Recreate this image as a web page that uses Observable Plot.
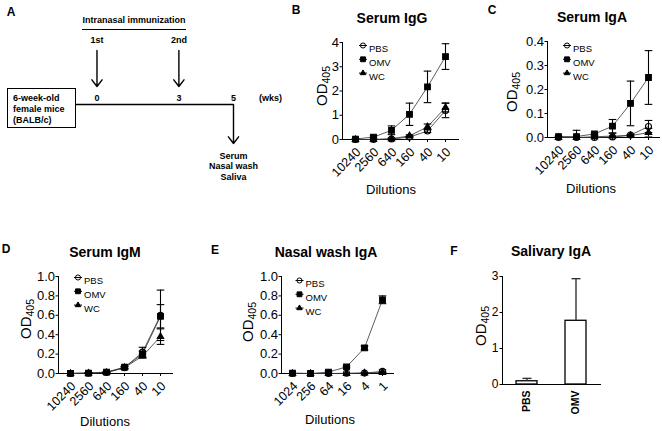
<!DOCTYPE html>
<html><head><meta charset="utf-8">
<script src="https://cdn.jsdelivr.net/npm/d3@7"></script>
<script src="https://cdn.jsdelivr.net/npm/@observablehq/plot@0.6"></script>
<style>
body{margin:0;background:#fff;}
#fig{position:relative;width:662px;height:431px;font-family:"Liberation Sans",Arial,sans-serif;color:#000;overflow:hidden;background:#fff;}
.c{position:absolute;transform:translate(-50%,-50%);white-space:nowrap;line-height:1;}
.letter{font-weight:bold;font-size:12px;}
.title{font-weight:bold;font-size:14px;}
.xlab{font-size:13px;}
.small{font-weight:bold;font-size:9px;}
.ylab{position:absolute;transform:translate(-50%,-50%) rotate(-90deg);white-space:nowrap;line-height:1;font-size:15px;}
.ylab sub{font-size:10.5px;vertical-align:-0.3em;}
.box{position:absolute;box-sizing:border-box;border:1.4px solid #000;font-weight:bold;font-size:9px;line-height:11px;padding:4px 0 0 5px;white-space:nowrap;}
.uline{position:absolute;border-top:1.3px solid #000;height:0;}
#fig svg{position:absolute;overflow:visible;background:transparent;}
#panelF g[aria-label="x-axis tick label"], #panelF g[aria-label="x-axis"] text{font-weight:bold;font-size:10.5px;}
</style></head>
<body><div id="fig"></div>
<script>
// ---------------- data ----------------
const groups = ["PBS", "OMV", "WC"];
const serumDilutions = ["10240", "2560", "640", "160", "40", "10"];
const nasalDilutions = ["1024", "256", "64", "16", "4", "1"];

// B: Serum IgG
const igG_PBS = [0.00, 0.00, 0.02, 0.10, 0.35, 1.20];
const igG_PBS_sd = [0, 0, 0.02, 0.03, 0.06, 0.30];
const igG_OMV = [0.02, 0.10, 0.38, 1.04, 2.17, 3.42];
const igG_OMV_sd = [0.02, 0.05, 0.18, 0.46, 0.65, 0.53];
const igG_WC = [0.00, 0.00, 0.03, 0.15, 0.52, 1.32];
const igG_WC_sd = [0, 0, 0.03, 0.04, 0.12, 0.18];
const igGTicks = [0, 1, 2, 3, 4];

// C: Serum IgA
const igA_PBS = [0.000, 0.000, 0.000, 0.002, 0.010, 0.046];
const igA_PBS_sd = [0, 0, 0, 0, 0.003, 0.025];
const igA_OMV = [0.004, 0.004, 0.015, 0.047, 0.142, 0.250];
const igA_OMV_sd = [0.002, 0.026, 0.004, 0.028, 0.093, 0.112];
const igA_WC = [0.000, 0.000, 0.003, 0.006, 0.008, 0.020];
const igA_WC_sd = [0, 0, 0.003, 0.012, 0.004, 0.018];
const igATicks = [0, 0.1, 0.2, 0.3, 0.4];

// D: Serum IgM
const igM_PBS = [0.000, 0.003, 0.010, 0.060, 0.220, 0.600];
const igM_PBS_sd = [0, 0.002, 0.005, 0.010, 0.050, 0.260];
const igM_OMV = [0.002, 0.005, 0.015, 0.065, 0.200, 0.590];
const igM_OMV_sd = [0, 0.003, 0.005, 0.010, 0.030, 0.120];
const igM_WC = [0.000, 0.003, 0.010, 0.060, 0.180, 0.380];
const igM_WC_sd = [0, 0.002, 0.005, 0.010, 0.020, 0.080];
const igMTicks = [0, 0.2, 0.4, 0.6, 0.8, 1.0];

// E: Nasal wash IgA
const nasal_PBS = [0.000, 0.000, 0.000, 0.002, 0.004, 0.022];
const nasal_PBS_sd = [0, 0, 0, 0, 0, 0.015];
const nasal_OMV = [0.005, 0.000, 0.015, 0.068, 0.264, 0.760];
const nasal_OMV_sd = [0, 0, 0.010, 0.010, 0.020, 0.040];
const nasal_WC = [0.000, 0.000, 0.000, 0.000, 0.005, 0.010];
const nasal_WC_sd = [0, 0, 0, 0, 0.002, 0.005];
const nasalTicks = [0, 0.2, 0.4, 0.6, 0.8, 1.0];

// F: Salivary IgA
const salivaryGroups = ["PBS", "OMV"];
const salivary = [0.09, 1.77];
const salivary_sd = [0.08, 1.17];
const salivaryTicks = [0, 1, 2, 3];

// A: schedule
const immunizationWeeks = [0, 3];
const immunizationLabels = ["1st", "2nd"];
const timelineWeeks = [0, 3, 5];
const samplingWeek = 5;
const samples = ["Serum", "Nasal wash", "Saliva"];

// ---------------- helpers ----------------
const fig = document.getElementById("fig");
const FONT = "Liberation Sans, Arial, sans-serif";
function put(svg, left, top, id) {
  svg.style.left = left + "px"; svg.style.top = top + "px";
  if (id) svg.id = id;
  fig.appendChild(svg);
}
function txt(cls, x, y, content, html) {
  const d = document.createElement("div");
  d.className = cls;
  if (html) d.innerHTML = content; else d.textContent = content;
  d.style.left = x + "px"; d.style.top = y + "px";
  fig.appendChild(d);
  return d;
}
const hLine = {draw(ctx, size) { const w = Math.sqrt(size / Math.PI); ctx.moveTo(-w, 0); ctx.lineTo(w, 0); }};
const symbolOf = {PBS: "circle", OMV: "square", WC: "triangle"};
const fillOf = {PBS: "none", OMV: "black", WC: "black"};
const rOf = {PBS: 3, OMV: 3.2, WC: 2.4};

function longRows(dils, vals, sds) {
  return groups.flatMap((g, gi) => dils.map((d, i) => ({group: g, dil: d, v: vals[gi][i], sd: sds[gi][i]})));
}

function linePanel(cfg) {
  const data = longRows(cfg.dils, cfg.vals, cfg.sds);
  const err = data.filter(d => d.sd > 0);
  const lo = d => Math.max(0, d.v - d.sd), hi = d => d.v + d.sd;
  const legend = groups.flatMap((g, i) => [
    Plot.dot([g], {frameAnchor: "top-left", dx: cfg.lx, dy: cfg.ly + i * 13.8, symbol: hLine, r: 4, stroke: "black", strokeWidth: 1}),
    Plot.dot([g], {frameAnchor: "top-left", dx: cfg.lx, dy: cfg.ly + i * 13.8, symbol: symbolOf[g], r: rOf[g] * 0.85, fill: fillOf[g], stroke: "black", strokeWidth: 1}),
    Plot.text([g], {frameAnchor: "top-left", dx: cfg.lx + 6, dy: cfg.ly + i * 13.8, text: d => d, textAnchor: "start", fontSize: 9.5})
  ]);
  return Plot.plot({
    width: cfg.width, height: cfg.height,
    marginLeft: cfg.mL, marginRight: cfg.mR, marginTop: cfg.mT, marginBottom: cfg.mB,
    style: {fontFamily: FONT, fontSize: "13px", color: "black", background: "transparent", overflow: "visible"},
    x: {type: "point", domain: cfg.dils, padding: cfg.pad, line: true, tickSize: 3, tickFormat: () => "", label: null},
    y: {domain: [cfg.ticks[0], cfg.ticks[cfg.ticks.length - 1]], ticks: cfg.ticks, tickFormat: cfg.fmt, line: true, tickSize: 2.5, tickPadding: 1, label: null},
    marks: [
      Plot.line(data, {x: "dil", y: "v", z: "group", stroke: "#333", strokeWidth: 0.8}),
      Plot.ruleX(err, {x: "dil", y1: lo, y2: hi, stroke: "black", strokeWidth: 1.1}),
      Plot.dot(err, {x: "dil", y: hi, symbol: hLine, r: 3.8, stroke: "black", strokeWidth: 1.1}),
      Plot.dot(err.filter(d => d.v - d.sd > 0), {x: "dil", y: lo, symbol: hLine, r: 3.8, stroke: "black", strokeWidth: 1.1}),
      ...groups.map(g => Plot.dot(data.filter(d => d.group === g), {x: "dil", y: "v", symbol: symbolOf[g], r: rOf[g], fill: fillOf[g], stroke: "black", strokeWidth: 1.1})),
      Plot.text(cfg.dils, {x: d => d, frameAnchor: "bottom", dx: 3, dy: 10.5, rotate: -45, textAnchor: "end", lineAnchor: "middle", text: d => d, fontSize: 12.5}),
      ...legend
    ]
  });
}

// ---------------- panel A ----------------
const imm = immunizationWeeks.map((wk, i) => ({wk, label: immunizationLabels[i]}));
const aPlot = Plot.plot({
  width: 300, height: 200, marginLeft: 76, marginRight: 67, marginTop: 0, marginBottom: 0,
  style: {fontFamily: FONT, fontSize: "9px", fontWeight: "bold", color: "black", background: "transparent", overflow: "visible"},
  x: {domain: [-0.75, samplingWeek], axis: null},
  y: {domain: [0, 200], range: [0, 200], axis: null},
  marks: [
    Plot.ruleY([104], {strokeWidth: 1.4}),
    Plot.arrow(imm, {x1: "wk", x2: "wk", y1: 50, y2: 86, headAngle: 75, headLength: 9, strokeWidth: 1.4}),
    Plot.text(imm, {x: "wk", y: 40, text: "label"}),
    Plot.text(timelineWeeks, {x: d => d, y: 98, text: d => String(d)}),
    Plot.text([samplingWeek], {x: d => d, y: 98, dx: 37, text: () => "(wks)"}),
    Plot.arrow([samplingWeek], {x1: d => d, x2: d => d, y1: 104, y2: 143, headAngle: 75, headLength: 9, strokeWidth: 1.4}),
    Plot.text([samplingWeek], {x: d => d, y: 165.5, text: () => samples.join("\n"), lineHeight: 1.17})
  ]
});
put(aPlot, 0, 0, "panelA");
const box = document.createElement("div");
box.className = "box";
box.style.left = "7px"; box.style.top = "88px"; box.style.width = "69px"; box.style.height = "40px";
box.innerHTML = "6-week-old<br>female mice<br>(BALB/c)";
fig.appendChild(box);
txt("c small", 134, 20, "Intranasal immunization");
const ul = document.createElement("div");
ul.className = "uline"; ul.style.left = "82px"; ul.style.top = "29px"; ul.style.width = "104px";
fig.appendChild(ul);

// ---------------- panels B-E ----------------
const f1 = d3.format(".1f");
put(linePanel({dils: serumDilutions, vals: [igG_PBS, igG_OMV, igG_WC], sds: [igG_PBS_sd, igG_OMV_sd, igG_WC_sd],
  ticks: igGTicks, fmt: d => String(d), width: 162, height: 200, mL: 42, mR: 4, mT: 42, mB: 61, pad: 0.6, lx: 20.5, ly: 3}), 300, 0, "panelB");
put(linePanel({dils: serumDilutions, vals: [igA_PBS, igA_OMV, igA_WC], sds: [igA_PBS_sd, igA_OMV_sd, igA_WC_sd],
  ticks: igATicks, fmt: f1, width: 172, height: 200, mL: 57, mR: 3, mT: 41, mB: 63, pad: 0.5, lx: 19.5, ly: 4}), 490, 0, "panelC");
put(linePanel({dils: serumDilutions, vals: [igM_PBS, igM_OMV, igM_WC], sds: [igM_PBS_sd, igM_OMV_sd, igM_WC_sd],
  ticks: igMTicks, fmt: f1, width: 176, height: 231, mL: 58, mR: 4, mT: 76, mB: 58, pad: 0.52, lx: 19.5, ly: 1}), 0, 200, "panelD");
put(linePanel({dils: nasalDilutions, vals: [nasal_PBS, nasal_OMV, nasal_WC], sds: [nasal_PBS_sd, nasal_OMV_sd, nasal_WC_sd],
  ticks: nasalTicks, fmt: f1, width: 167, height: 231, mL: 51, mR: 4, mT: 76, mB: 58, pad: 0.5, lx: 18, ly: 4}), 230, 200, "panelE");

// ---------------- panel F ----------------
const sal = salivaryGroups.map((g, i) => ({group: g, v: salivary[i], sd: salivary_sd[i]}));
put(Plot.plot({
  width: 154, height: 231, marginLeft: 52, marginRight: 4, marginTop: 76, marginBottom: 47,
  style: {fontFamily: FONT, fontSize: "12px", color: "black", background: "transparent", overflow: "visible"},
  x: {type: "band", domain: salivaryGroups, paddingInner: 0.58, paddingOuter: 0.29, line: true, tickSize: 0, tickPadding: 6, tickRotate: -90, label: null},
  y: {domain: [0, 3], ticks: salivaryTicks, tickFormat: d => String(d), line: true, tickSize: 2.5, tickPadding: 1.5, label: null},
  marks: [
    Plot.barY(sal, {x: "group", y: "v", fill: "white", stroke: "black", strokeWidth: 1.3}),
    Plot.ruleX(sal, {x: "group", y1: "v", y2: d => d.v + d.sd, stroke: "#333", strokeWidth: 1.4}),
    Plot.dot(sal, {x: "group", y: d => d.v + d.sd, symbol: hLine, r: 4.5, stroke: "#333", strokeWidth: 1.4})
  ]
}), 450, 200, "panelF");

// ---------------- text overlays ----------------
[["A", 11, 12], ["B", 296, 10], ["C", 492, 10], ["D", 6, 249], ["E", 215, 250], ["F", 454, 251]]
  .forEach(([t, x, y]) => txt("c letter", x, y, t));
[["Serum IgG", 392, 18], ["Serum IgA", 592, 17], ["Serum IgM", 105, 252], ["Nasal wash IgA", 326, 252], ["Salivary IgA", 551, 251]]
  .forEach(([t, x, y]) => txt("c title", x, y, t));
[[391, 189], [591, 188], [105, 421], [330, 419]].forEach(([x, y]) => txt("c xlab", x, y, "Dilutions"));
[[323, 86], [513, 92], [27, 319], [249, 322], [482, 326]].forEach(([x, y]) => txt("ylab", x, y, "OD<sub>405</sub>", true));
</script>
</body></html>
